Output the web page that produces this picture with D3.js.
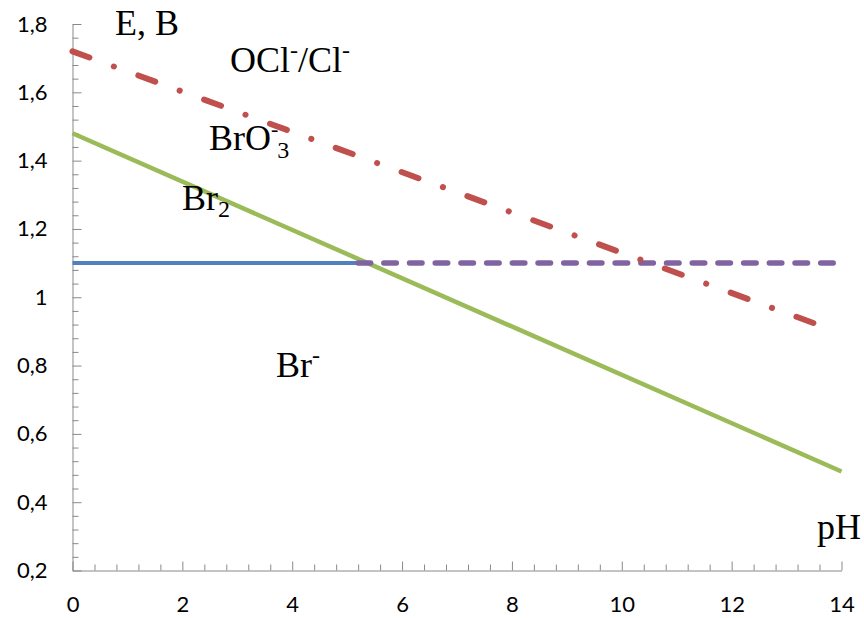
<!DOCTYPE html>
<html>
<head>
<meta charset="utf-8">
<script src="https://cdn.jsdelivr.net/npm/d3@7"></script>
<style>
  html, body { margin: 0; padding: 0; background: #fff; }
  svg { display: block; }
  .tick text { font-family: Lato, "Open Sans", sans-serif; font-size: 22px; fill: #000; }
  .lbl { font-family: "Liberation Serif", "Times New Roman", serif; font-size: 36px; fill: #000; }
</style>
</head>
<body>
<div id="chart"></div>
<script>
// axis ticks
const xMajor = [0, 2, 4, 6, 8, 10, 12, 14];
const yMajor = [0.2, 0.4, 0.6, 0.8, 1.0, 1.2, 1.4, 1.6, 1.8];

// OCl-/Cl- line (dash-dot)
const oclPh = [0, 13.6];
const oclE = [1.72, 0.918];

// BrO3-/Br- boundary (green)
const bro3BrPh = [0, 14];
const bro3BrE = [1.48, 0.49];

// Br2/Br- boundary (blue, solid)
const br2BrPh = [0, 5.2];
const br2BrE = [1.10, 1.10];

// Br2/Br- continued (purple, dashed)
const br2DashPh = [5.2, 14];
const br2DashE = [1.10, 1.10];

const width = 864, height = 618;

const svg = d3.select('#chart').append('svg')
  .attr('width', width)
  .attr('height', height);

const x = d3.scaleLinear().domain([0, 14]).range([72.5, 841.5]);
const y = d3.scaleLinear().domain([0.2, 1.8]).range([570.5, 24]);

const fmt = d => (Math.round(d * 10) / 10).toString().replace('.', ',');

// minor ticks first
const xMinor = d3.range(0, 14.0001, 0.4).filter(v => Math.abs(v / 2 - Math.round(v / 2)) > 1e-6);
const yMinor = d3.range(0.2, 1.8001, 0.04).filter(v => Math.abs(v / 0.2 - Math.round(v / 0.2)) > 1e-6);

svg.append('g')
  .attr('transform', `translate(0,${y(0.2)})`)
  .call(d3.axisBottom(x).tickValues(xMinor).tickSize(-6).tickSizeOuter(0).tickFormat(''))
  .call(g => g.select('.domain').remove());

svg.append('g')
  .attr('transform', `translate(${x(0)},0)`)
  .call(d3.axisLeft(y).tickValues(yMinor).tickSize(-6).tickSizeOuter(0).tickFormat(''))
  .call(g => g.select('.domain').remove());

// major ticks + labels
svg.append('g')
  .attr('transform', `translate(0,${y(0.2)})`)
  .call(d3.axisBottom(x).tickValues(xMajor).tickSize(-9).tickSizeOuter(0).tickPadding(26).tickFormat(d3.format('d')));

svg.append('g')
  .attr('transform', `translate(${x(0)},0)`)
  .call(d3.axisLeft(y).tickValues(yMajor).tickSize(-9).tickSizeOuter(0).tickPadding(25).tickFormat(fmt));

svg.selectAll('.domain, .tick line').attr('stroke', '#898989').attr('stroke-width', 1);

// lines
const line = d3.line().x(d => x(d[0])).y(d => y(d[1]));
const pts = (ph, e) => ph.map((p, i) => [p, e[i]]);

svg.append('path')
  .datum(pts(br2BrPh, br2BrE))
  .attr('d', line)
  .attr('fill', 'none')
  .attr('stroke', '#4F81BD')
  .attr('stroke-width', 4);

svg.append('path')
  .datum(pts(bro3BrPh, bro3BrE))
  .attr('d', line)
  .attr('fill', 'none')
  .attr('stroke', '#9BBB59')
  .attr('stroke-width', 4.5);

svg.append('path')
  .datum(pts(br2DashPh, br2DashE))
  .attr('d', line)
  .attr('fill', 'none')
  .attr('stroke', '#8064A2')
  .attr('stroke-width', 5.5)
  .attr('stroke-linecap', 'round')
  .attr('stroke-dasharray', '12.5,13.2');

svg.append('path')
  .datum(pts(oclPh, oclE))
  .attr('d', line)
  .attr('fill', 'none')
  .attr('stroke', '#C0504D')
  .attr('stroke-width', 6)
  .attr('stroke-linecap', 'round')
  .attr('stroke-dasharray', '18,26,0.1,26');

// labels
function label(px, py, parts) {
  const t = svg.append('text').attr('class', 'lbl').attr('x', px).attr('y', py);
  parts.forEach(p => {
    const s = t.append('tspan').text(p.t);
    if (p.size) s.style('font-size', p.size + 'px');
    if (p.dx) s.attr('dx', p.dx);
    if (p.dy) s.attr('dy', p.dy);
  });
  return t;
}

label(115, 35, [{ t: 'E, B' }]);
label(230, 72, [{ t: 'OCl' }, { t: '-', size: 24, dy: -14 }, { t: '/Cl', dy: 14 }, { t: '-', size: 24, dy: -14 }]);
label(209, 150, [{ t: 'BrO' }, { t: '-', size: 22, dy: -14 }, { t: '3', size: 24, dx: -1, dy: 22 }]);
label(182, 210, [{ t: 'Br' }, { t: '2', size: 24, dy: 7 }]);
label(276, 377, [{ t: 'Br' }, { t: '-', size: 24, dy: -14 }]);
label(817, 539, [{ t: 'pH' }]);
</script>
</body>
</html>
